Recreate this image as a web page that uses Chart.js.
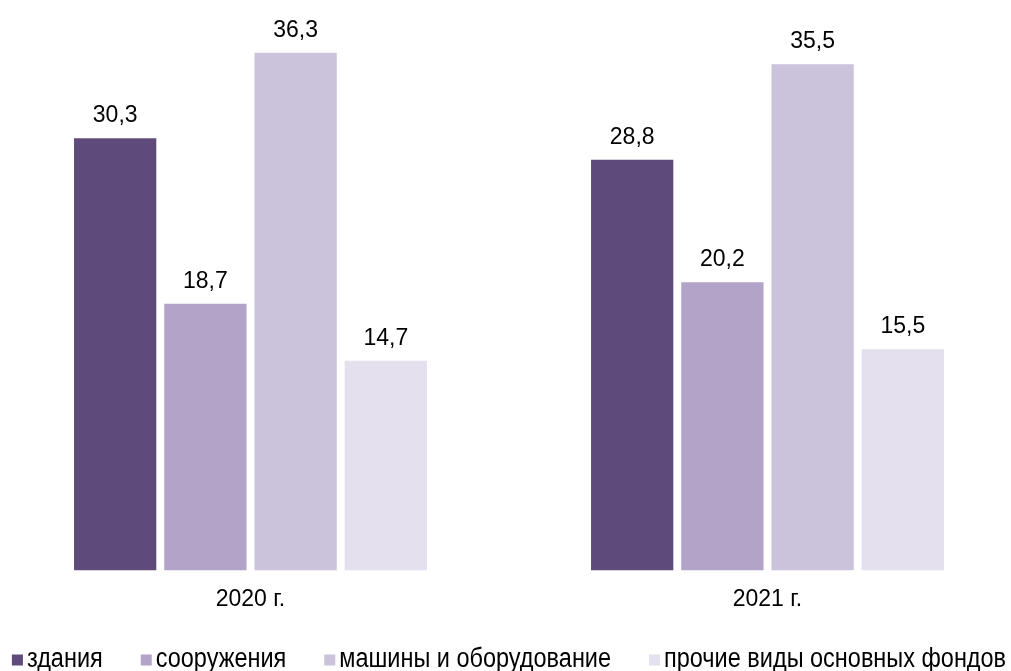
<!DOCTYPE html>
<html>
<head>
<meta charset="utf-8">
<script src="https://cdn.jsdelivr.net/npm/chart.js@4/dist/chart.umd.min.js"></script>
<style>
  html, body { margin: 0; padding: 0; background: #ffffff; overflow: hidden; }
  #wrap { position: absolute; left: -8px; top: 0; width: 1034px; height: 671px; }
</style>
</head>
<body>
<div id="wrap"><canvas id="c"></canvas></div>
<script>
const categories = ['2020 г.', '2021 г.'];
const seriesNames = ['здания', 'сооружения', 'машины и оборудование', 'прочие виды основных фондов'];
const zdaniya = [30.3, 28.8];
const sooruzheniya = [18.7, 20.2];
const mashiny = [36.3, 35.5];
const prochie = [14.7, 15.5];
const colors = ['#5f4b7b', '#b2a3c8', '#cbc2dc', '#e5e0ed'];

const seriesValues = [zdaniya, sooruzheniya, mashiny, prochie];

const valueLabels = {
  id: 'valueLabels',
  afterDatasetsDraw(chart) {
    const ctx = chart.ctx;
    ctx.save();
    ctx.font = '23px "Liberation Sans", Arial, sans-serif';
    ctx.fillStyle = '#000000';
    ctx.textAlign = 'center';
    ctx.textBaseline = 'alphabetic';
    chart.data.datasets.forEach((ds, i) => {
      const meta = chart.getDatasetMeta(i);
      meta.data.forEach((bar, j) => {
        const txt = ds.data[j].toFixed(1).replace('.', ',');
        ctx.fillText(txt, bar.x, bar.y - 16);
      });
    });
    ctx.restore();
  }
};

const customLegend = {
  id: 'customLegend',
  afterDraw(chart) {
    const ctx = chart.ctx;
    ctx.save();
    const sx = 0.87;
    ctx.font = '27px "Liberation Sans", Arial, sans-serif';
    const box = 11, boxGap = 4, itemGap = 38;
    const items = chart.data.datasets.map(ds => ({ label: ds.label, color: ds.backgroundColor, w: ctx.measureText(ds.label).width * sx }));
    const total = items.reduce((s, it) => s + box + boxGap + it.w, 0) + itemGap * (items.length - 1);
    let x = chart.width / 2 - total / 2;
    const cy = chart.height - 11;
    ctx.textBaseline = 'middle';
    ctx.textAlign = 'left';
    items.forEach(it => {
      ctx.fillStyle = it.color;
      ctx.fillRect(x, cy - box / 2, box, box);
      ctx.fillStyle = '#000000';
      ctx.save();
      ctx.translate(x + box + boxGap, cy);
      ctx.scale(sx, 1);
      ctx.fillText(it.label, 0, 0);
      ctx.restore();
      x += box + boxGap + it.w + itemGap;
    });
    ctx.restore();
  }
};

new Chart(document.getElementById('c'), {
  type: 'bar',
  data: {
    labels: categories,
    datasets: seriesNames.map((name, i) => ({
      label: name,
      data: seriesValues[i],
      backgroundColor: colors[i],
      borderWidth: 0,
      categoryPercentage: 0.698,
      barPercentage: 0.912
    }))
  },
  options: {
    responsive: true,
    maintainAspectRatio: false,
    animation: false,
    layout: { padding: { top: 0, left: 0, right: 0, bottom: 43 } },
    plugins: {
      legend: { display: false },
      tooltip: { enabled: false }
    },
    scales: {
      x: {
        grid: { display: false, drawTicks: false },
        border: { display: false },
        ticks: {
          padding: 15,
          color: '#000000',
          font: { family: '"Liberation Sans", Arial, sans-serif', size: 23 }
        }
      },
      y: {
        display: false,
        min: 0,
        max: 40
      }
    }
  },
  plugins: [valueLabels, customLegend]
});
</script>
</body>
</html>
